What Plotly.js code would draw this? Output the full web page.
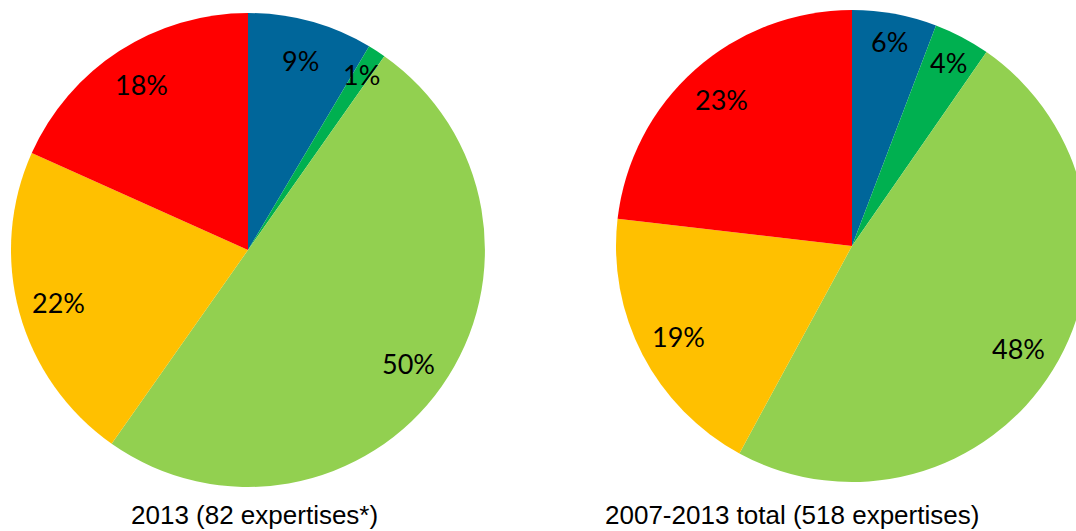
<!DOCTYPE html>
<html>
<head>
<meta charset="utf-8">
<script src="https://cdn.plot.ly/plotly-3.0.1.min.js"></script>
<style>
  html, body { margin: 0; padding: 0; overflow: hidden; background: #fff; }
  #chart { width: 1100px; height: 531px; }
</style>
</head>
<body>
<div id="chart"></div>
<script>
// Slice order, clockwise from 12 o'clock
const CATEGORIES = ["Blue", "Dark green", "Light green", "Yellow", "Red"];
const COLORS = ["#00669A", "#00B050", "#92D050", "#FFC000", "#FF0000"];

// Expertise counts
const counts2013 = [7, 1, 41, 18, 15];          // 82 expertises
const countsTotal = [30, 20, 250, 98, 120];      // 518 expertises

const TITLE_2013 = "2013 (82 expertises*)";
const TITLE_TOTAL = "2007-2013 total (518 expertises)";

const W = 1100, H = 531;

// pie geometry in pixels (centre and radius)
const pies = [
    { values: counts2013, cx: 248, cy: 250, r: 237, title: TITLE_2013, tx: 254, ty: 515 },
    { values: countsTotal, cx: 852, cy: 246, r: 236, title: TITLE_TOTAL, tx: 792, ty: 515 }
];

const traces = [];
const annotations = [];

pies.forEach(p => {
    traces.push({
        type: 'pie',
        labels: CATEGORIES,
        values: p.values,
        sort: false,
        direction: 'clockwise',
        rotation: 0,
        textinfo: 'none',
        hoverinfo: 'none',
        showlegend: false,
        marker: { colors: COLORS, line: { width: 0 } },
        domain: {
            x: [(p.cx - p.r) / W, (p.cx + p.r) / W],
            y: [1 - (p.cy + p.r) / H, 1 - (p.cy - p.r) / H]
        }
    });

    // percentage labels along each slice's bisector, like Excel does
    const total = p.values.reduce((a, b) => a + b, 0);
    let cum = 0;
    p.values.forEach(v => {
        const mid = (cum + v / 2) / total * 2 * Math.PI;
        cum += v;
        const frac = v / total < 0.08 ? 0.88 : 0.83;
        const px = p.cx + frac * p.r * Math.sin(mid);
        const py = p.cy - frac * p.r * Math.cos(mid);
        annotations.push({
            x: px / W, y: 1 - py / H, xref: 'paper', yref: 'paper',
            xanchor: 'center', yanchor: 'middle',
            text: Math.round(v / total * 100) + '%',
            showarrow: false,
            font: { family: 'Lato, "Open Sans", sans-serif', size: 27, color: '#000' }
        });
    });

    // caption under the pie
    annotations.push({
        x: p.tx / W, y: 1 - p.ty / H, xref: 'paper', yref: 'paper',
        xanchor: 'center', yanchor: 'middle',
        text: p.title,
        showarrow: false,
        font: { family: '"Liberation Sans", Arial, sans-serif', size: 26, color: '#000' }
    });
});

const layout = {
    width: W,
    height: H,
    margin: { t: 0, b: 0, l: 0, r: 0 },
    paper_bgcolor: '#fff',
    annotations: annotations
};

Plotly.newPlot('chart', traces, layout, { staticPlot: true });
</script>
</body>
</html>
